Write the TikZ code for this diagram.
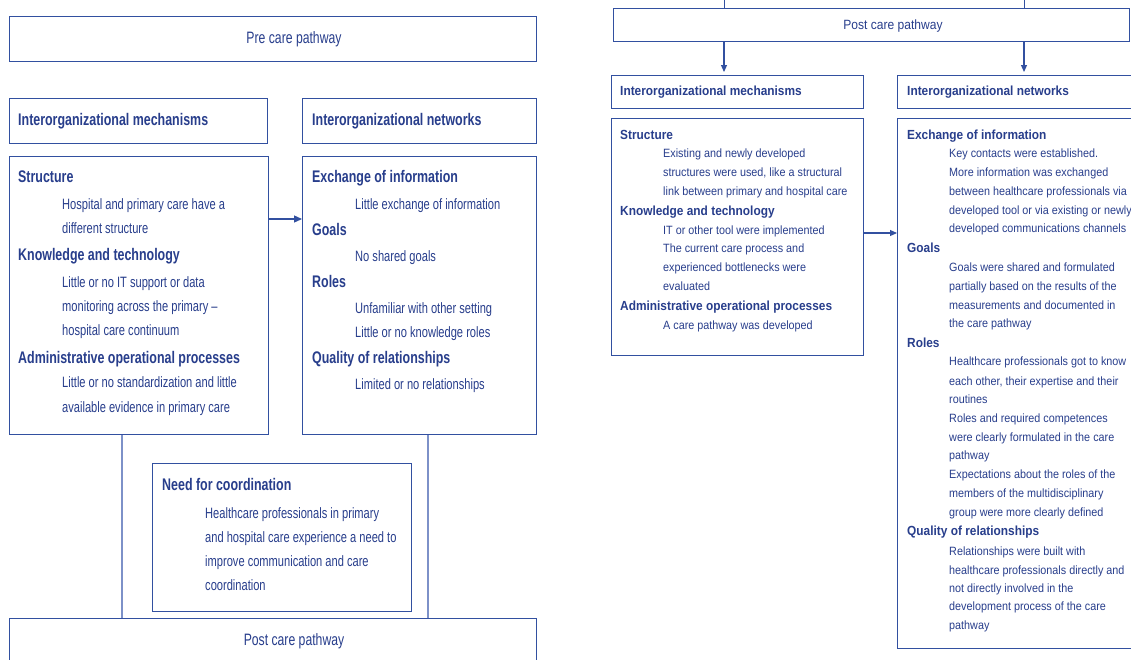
\documentclass[tikz,border=0pt]{standalone}
\usepackage{fontspec}
\usetikzlibrary{arrows.meta}
% condensed faces for the two panels
\newfontfamily\lfam[FakeStretch=0.74]{Liberation Sans}
\newfontfamily\rfam[FakeStretch=0.9]{Liberation Sans}
\definecolor{ink}{RGB}{40,62,140}
\definecolor{frame}{RGB}{50,80,160}
\definecolor{linkc}{RGB}{125,145,200}

\begin{document}
\begin{tikzpicture}[x=1pt,y=-1pt,
  box/.style={draw=frame, line width=1.4pt, anchor=north west, inner sep=0pt},
  lt/.style={anchor=base west, inner sep=0pt, text=ink, font=\lfam\fontsize{15}{18}\selectfont},
  lh/.style={anchor=base west, inner sep=0pt, text=ink, font=\lfam\bfseries\fontsize{16.8}{20}\selectfont},
  ltitle/.style={anchor=base, inner sep=0pt, text=ink, font=\lfam\fontsize{16.5}{20}\selectfont},
  rt/.style={anchor=base west, inner sep=0pt, text=ink, font=\rfam\fontsize{12}{14}\selectfont},
  rh/.style={anchor=base west, inner sep=0pt, text=ink, font=\rfam\bfseries\fontsize{13.2}{16}\selectfont},
  rtitle/.style={anchor=base, inner sep=0pt, text=ink, font=\rfam\fontsize{13.4}{16}\selectfont},
  arr/.style={draw=frame, line width=1.3pt, -{Triangle[length=8pt,width=7pt]}},
  sarr/.style={draw=frame, line width=1.1pt, -{Triangle[length=7pt,width=6pt]}},
  linkline/.style={draw=linkc, line width=1.1pt}
]
\useasboundingbox (0,0) rectangle (1131,659);
\clip (0,0) rectangle (1131,659);
\fill[white] (0,0) rectangle (1131,659);

% ---------- left panel: before the care pathway ----------
\node[box, minimum width=527pt, minimum height=45pt] (lpre) at (9,16) {};
\node[ltitle] (lpreT) at (294,43) {Pre care pathway};

\node[box, minimum width=258pt, minimum height=45pt] (lmechh) at (9,98) {};
\node[lh] (lmechhT) at (18,125) {Interorganizational mechanisms};
\node[box, minimum width=234pt, minimum height=45pt] (lneth) at (302,98) {};
\node[lh] (lnethT) at (312,125) {Interorganizational networks};

\node[box, minimum width=259pt, minimum height=278pt] (lmechb) at (9,156) {};
\node[lh] (lm1) at (18,182) {Structure};
\node[lt] (lm2) at (62,209) {Hospital and primary care have a};
\node[lt] (lm3) at (62,233) {different structure};
\node[lh] (lm4) at (18,260) {Knowledge and technology};
\node[lt] (lm5) at (62,287) {Little or no IT support or data};
\node[lt] (lm6) at (62,311) {monitoring across the primary –};
\node[lt] (lm7) at (62,335) {hospital care continuum};
\node[lh] (lm8) at (18,363) {Administrative operational processes};
\node[lt] (lm9) at (62,387) {Little or no standardization and little};
\node[lt] (lm10) at (62,412) {available evidence in primary care};

\node[box, minimum width=234pt, minimum height=278pt] (lnetb) at (302,156) {};
\node[lh] (ln1) at (312,182) {Exchange of information};
\node[lt] (ln2) at (355,209) {Little exchange of information};
\node[lh] (ln3) at (312,235) {Goals};
\node[lt] (ln4) at (355,261) {No shared goals};
\node[lh] (ln5) at (312,287) {Roles};
\node[lt] (ln6) at (355,313) {Unfamiliar with other setting};
\node[lt] (ln7) at (355,337) {Little or no knowledge roles};
\node[lh] (ln8) at (312,363) {Quality of relationships};
\node[lt] (ln9) at (355,389) {Limited or no relationships};

\node[box, minimum width=259pt, minimum height=148pt] (lneed) at (152,463) {};
\node[lh] (ld1) at (162,490) {Need for coordination};
\node[lt] (ld2) at (205,518) {Healthcare professionals in primary};
\node[lt] (ld3) at (205,542) {and hospital care experience a need to};
\node[lt] (ld4) at (205,566) {improve communication and care};
\node[lt] (ld5) at (205,590) {coordination};

\node[box, minimum width=527pt, minimum height=60pt] (lpost) at (9,618) {};
\node[ltitle] (lpostT) at (294,645) {Post care pathway};

\coordinate (vA) at (122,0);
\coordinate (vB) at (428,0);
\draw[linkline] (vA |- lmechb.south) -- (vA |- lpost.north);
\draw[linkline] (vB |- lnetb.south) -- (vB |- lpost.north);
\draw[arr] ([yshift=-63pt]lmechb.north east) -- ([yshift=-63pt]lnetb.north west);

% ---------- right panel: after the care pathway ----------
\node[box, minimum width=516pt, minimum height=33pt] (rpost) at (613,8) {};
\node[rtitle] (rpostT) at (893,29) {Post care pathway};

\node[box, minimum width=252pt, minimum height=33pt] (rmechh) at (611,75) {};
\node[rh] (rmechhT) at (620,95) {Interorganizational mechanisms};
\node[box, minimum width=250pt, minimum height=33pt] (rneth) at (897,75) {};
\node[rh] (rnethT) at (907,95) {Interorganizational networks};

\coordinate (tA) at (724,0);
\coordinate (tB) at (1024,0);
\draw[linkline, draw=frame, line width=0.9pt] (tA) -- (tA |- rpost.north);
\draw[linkline, draw=frame, line width=0.9pt] (tB) -- (tB |- rpost.north);
\draw[sarr, shorten >=3pt] (tA |- rpost.south) -- (tA |- rmechh.north);
\draw[sarr, shorten >=3pt] (tB |- rpost.south) -- (tB |- rneth.north);

\node[box, minimum width=252pt, minimum height=237pt] (rmechb) at (611,118) {};
\node[rh] (rm1) at (620,139) {Structure};
\node[rt] (rm2) at (663,157.7) {Existing and newly developed};
\node[rt] (rm3) at (663,176.5) {structures were used, like a structural};
\node[rt] (rm4) at (663,195) {link between primary and hospital care};
\node[rh] (rm5) at (620,215) {Knowledge and technology};
\node[rt] (rm6) at (663,234) {IT or other tool were implemented};
\node[rt] (rm7) at (663,252.7) {The current care process and};
\node[rt] (rm8) at (663,271.5) {experienced bottlenecks were};
\node[rt] (rm9) at (663,290) {evaluated};
\node[rh] (rm10) at (620,310) {Administrative operational processes};
\node[rt] (rm11) at (663,329) {A care pathway was developed};

\node[box, minimum width=250pt, minimum height=530pt] (rnetb) at (897,118) {};
\node[rh] (rn1) at (907,139) {Exchange of information};
\node[rt] (rn2) at (949,157.7) {Key contacts were established.};
\node[rt] (rn3) at (949,176.5) {More information was exchanged};
\node[rt] (rn4) at (949,195) {between healthcare professionals via};
\node[rt] (rn5) at (949,214) {developed tool or via existing or newly};
\node[rt] (rn6) at (949,232) {developed communications channels};
\node[rh] (rn7) at (907,252) {Goals};
\node[rt] (rn8) at (949,271.7) {Goals were shared and formulated};
\node[rt] (rn9) at (949,290) {partially based on the results of the};
\node[rt] (rn10) at (949,309) {measurements and documented in};
\node[rt] (rn11) at (949,327) {the care pathway};
\node[rh] (rn12) at (907,347) {Roles};
\node[rt] (rn13) at (949,365.7) {Healthcare professionals got to know};
\node[rt] (rn14) at (949,385) {each other, their expertise and their};
\node[rt] (rn15) at (949,403) {routines};
\node[rt] (rn16) at (949,422) {Roles and required competences};
\node[rt] (rn17) at (949,441) {were clearly formulated in the care};
\node[rt] (rn18) at (949,459) {pathway};
\node[rt] (rn19) at (949,478) {Expectations about the roles of the};
\node[rt] (rn20) at (949,497) {members of the multidisciplinary};
\node[rt] (rn21) at (949,516) {group were more clearly defined};
\node[rh] (rn22) at (907,535.7) {Quality of relationships};
\node[rt] (rn23) at (949,555) {Relationships were built with};
\node[rt] (rn24) at (949,574) {healthcare professionals directly and};
\node[rt] (rn25) at (949,592) {not directly involved in the};
\node[rt] (rn26) at (949,610.7) {development process of the care};
\node[rt] (rn27) at (949,629) {pathway};

\draw[sarr] ([yshift=-115pt]rmechb.north east) -- ([yshift=-115pt]rnetb.north west);
\end{tikzpicture}
\end{document}
